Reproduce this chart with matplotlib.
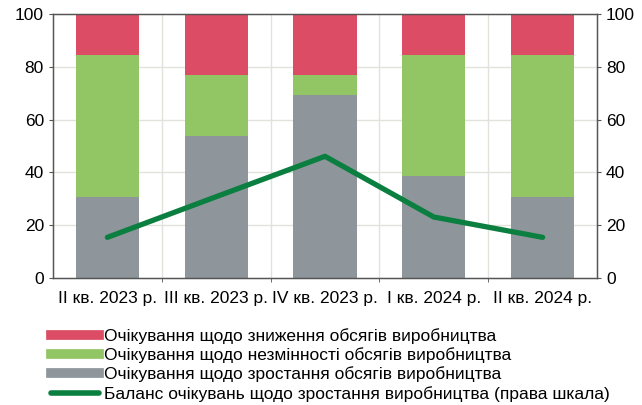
import matplotlib
matplotlib.use("Agg")
import matplotlib.pyplot as plt
import numpy as np
from matplotlib.lines import Line2D
from matplotlib import font_manager

names = {f.name for f in font_manager.fontManager.ttflist}
fam = 'Liberation Sans Narrow' if 'Liberation Sans Narrow' in names else 'Liberation Sans'
plt.rcParams['font.family'] = [fam, 'DejaVu Sans']

categories = ["II кв. 2023 р.", "III кв. 2023 р.", "IV кв. 2023 р.", "I кв. 2024 р.", "II кв. 2024 р."]
growth = [30.8, 53.8, 69.2, 38.5, 30.8]
unchanged = [53.8, 23.1, 7.7, 46.1, 53.8]
decrease = [15.4, 23.1, 23.1, 15.4, 15.4]
balance = [15.4, 30.8, 46.1, 23.1, 15.4]

labels = ["Очікування щодо зниження обсягів виробництва",
          "Очікування щодо незмінності обсягів виробництва",
          "Очікування щодо зростання обсягів виробництва",
          "Баланс очікувань щодо зростання виробництва (права шкала)"]

c_red = "#DC4C64"
c_green = "#92C665"
c_gray = "#8E969B"
c_line = "#0A7F40"

fs = 12.5
fig = plt.figure(figsize=(6.42, 4.05), dpi=100)
ax = fig.add_axes([53 / 642, 1 - 278 / 405, 544 / 642, 264 / 405])
x = np.arange(len(categories))
w = 0.58
ax.bar(x, growth, w, color=c_gray, zorder=2)
ax.bar(x, unchanged, w, bottom=growth, color=c_green, zorder=2)
ax.bar(x, decrease, w, bottom=np.array(growth) + np.array(unchanged), color=c_red, zorder=2)

ax.set_xlim(-0.5, len(categories) - 0.5)
ax.set_ylim(0, 100)
ax.set_yticks(range(0, 101, 20))
ax.set_xticks(x)
ax.set_xticklabels(categories, fontsize=fs)
ax.set_xticks(np.arange(0.5, len(categories) - 0.5, 1), minor=True)
ax.tick_params(axis='x', which='major', length=0, pad=9)
ax.tick_params(axis='x', which='minor', length=3, direction='out', color="#555555")
ax.tick_params(axis='y', labelsize=fs, length=3, color="#555555")
for yv in range(20, 100, 20):
    ax.axhline(yv, color="#E2E2DC", lw=1, zorder=1)
for xv in np.arange(0.5, len(categories) - 0.5, 1):
    ax.axvline(xv, color="#E2E2DC", lw=1, zorder=1)
for s in ax.spines.values():
    s.set_color("#555555")
    s.set_linewidth(1)

ax2 = ax.twinx()
ax2.plot(x, balance, color=c_line, lw=3.8, solid_capstyle='round', zorder=5)
ax2.set_ylim(0, 100)
ax2.set_yticks(range(0, 101, 20))
ax2.tick_params(axis='y', labelsize=fs, length=3, color="#555555")
for s in ax2.spines.values():
    s.set_color("#555555")

handles = [Line2D([0], [0], color=c_red, lw=7),
           Line2D([0], [0], color=c_green, lw=7),
           Line2D([0], [0], color=c_gray, lw=7),
           Line2D([0], [0], color=c_line, lw=4, solid_capstyle='round')]
fig.legend(handles, labels, loc='upper left', bbox_to_anchor=(44 / 642, 1 - 321 / 405),
           frameon=False, fontsize=fs, handlelength=2.75, handletextpad=0.28,
           labelspacing=0.2, borderaxespad=0)

fig.savefig("out.png", dpi=100)
